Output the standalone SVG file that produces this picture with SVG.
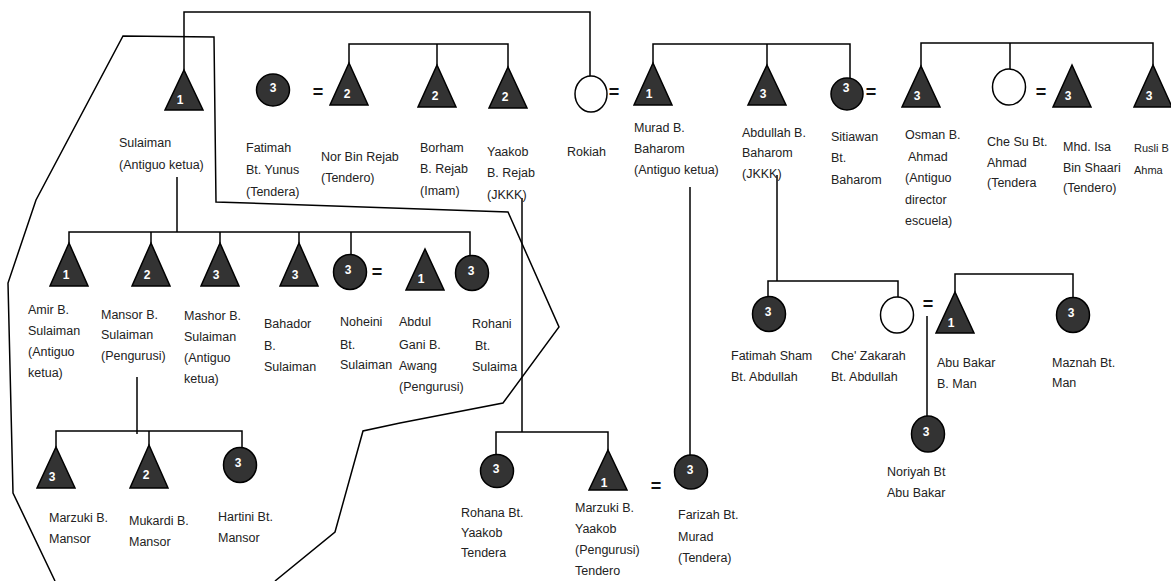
<svg xmlns="http://www.w3.org/2000/svg" width="1171" height="581" viewBox="0 0 1171 581">
<style>
.tri{fill:#333;stroke:#000;stroke-width:1.5}
.cf{fill:#333;stroke:#000;stroke-width:1.5}
.co{fill:#fff;stroke:#000;stroke-width:1.5}
.num{font-family:"Liberation Sans",Arial,sans-serif;font-weight:bold;font-size:12px;fill:#fff;text-anchor:middle}
.lbl{font-family:"Liberation Sans",Arial,sans-serif;font-size:12.5px;fill:#222}
.eq{font-family:"Liberation Sans",Arial,sans-serif;font-weight:bold;font-size:18px;fill:#111;text-anchor:middle}
.ln{fill:none;stroke:#000;stroke-width:1.5}
</style>
<rect width="1171" height="581" fill="#fff"/>
<g id="boundary">
<polyline class="ln" points="55,581 13,493 8,283 36,200 123,36 214,37 216,202 508,212 559,327 503,403 400,423 363,431 335,532 275,581"/>
</g>
<g id="connectors">
<polyline class="ln" points="184,70 184,12 590,12 590,76"/>
<polyline class="ln" points="349,63 349,44 508,44 508,67"/>
<line class="ln" x1="437" y1="44" x2="437" y2="65"/>
<polyline class="ln" points="653,63 653,44 850,44 850,78"/>
<line class="ln" x1="767" y1="44" x2="767" y2="65"/>
<polyline class="ln" points="921,66 921,43 1153,43 1153,65"/>
<line class="ln" x1="1010" y1="43" x2="1010" y2="69"/>
<line class="ln" x1="177" y1="177" x2="177" y2="232"/>
<polyline class="ln" points="69,243 69,232 470,232 470,255"/>
<line class="ln" x1="151" y1="232" x2="151" y2="243"/>
<line class="ln" x1="220" y1="232" x2="220" y2="243"/>
<line class="ln" x1="299" y1="232" x2="299" y2="243"/>
<line class="ln" x1="351" y1="232" x2="351" y2="255"/>
<line class="ln" x1="137" y1="377" x2="137" y2="434"/>
<polyline class="ln" points="56,447 56,431 242,431 242,447"/>
<line class="ln" x1="149" y1="431" x2="149" y2="445"/>
<line class="ln" x1="522" y1="198" x2="522" y2="432"/>
<polyline class="ln" points="496,455 496,432 608,432 608,450"/>
<line class="ln" x1="690" y1="187" x2="690" y2="455"/>
<line class="ln" x1="777" y1="175" x2="777" y2="281"/>
<polyline class="ln" points="768,297 768,281 898,281 898,297"/>
<polyline class="ln" points="955,292 955,274 1073,274 1073,297"/>
<line class="ln" x1="927" y1="316" x2="927" y2="416"/>
</g>
<g id="marriages">
<text class="eq" x="318" y="98">=</text>
<text class="eq" x="614" y="98">=</text>
<text class="eq" x="871" y="98">=</text>
<text class="eq" x="1041" y="98">=</text>
<text class="eq" x="377" y="278">=</text>
<text class="eq" x="656" y="492">=</text>
<text class="eq" x="928" y="310">=</text>
</g>
<g id="sulaiman"><path class="tri" d="M184,70 L203,110 L165,110 Z"/><text class="num" x="180" y="104">1</text>
<text class="lbl" x="119" y="147">Sulaiman</text><text class="lbl" x="119" y="169">(Antiguo ketua)</text></g>
<g id="fatimah-yunus"><ellipse class="cf" cx="273" cy="90" rx="16.5" ry="16"/><text class="num" x="273" y="92">3</text>
<text class="lbl" x="246" y="152">Fatimah</text><text class="lbl" x="246" y="174">Bt. Yunus</text><text class="lbl" x="246" y="196">(Tendera)</text></g>
<g id="nor"><path class="tri" d="M349,63 L368,105 L330,105 Z"/><text class="num" x="347" y="98">2</text>
<text class="lbl" x="321" y="161">Nor Bin Rejab</text><text class="lbl" x="321" y="182">(Tendero)</text></g>
<g id="borham"><path class="tri" d="M437,65 L456,107 L418,107 Z"/><text class="num" x="435" y="100">2</text>
<text class="lbl" x="420" y="152">Borham</text><text class="lbl" x="420" y="173">B. Rejab</text><text class="lbl" x="420" y="195">(Imam)</text></g>
<g id="yaakob"><path class="tri" d="M508,67 L527,108 L489,108 Z"/><text class="num" x="505" y="101">2</text>
<text class="lbl" x="487" y="156">Yaakob</text><text class="lbl" x="487" y="177">B. Rejab</text><text class="lbl" x="487" y="199">(JKKK)</text></g>
<g id="rokiah"><ellipse class="co" cx="591" cy="94" rx="16" ry="18"/>
<text class="lbl" x="567" y="156">Rokiah</text></g>
<g id="murad"><path class="tri" d="M653,63 L672,105 L634,105 Z"/><text class="num" x="649" y="98">1</text>
<text class="lbl" x="634" y="132">Murad B.</text><text class="lbl" x="634" y="153">Baharom</text><text class="lbl" x="634" y="174">(Antiguo ketua)</text></g>
<g id="abdullah"><path class="tri" d="M767,65 L786,105 L748,105 Z"/><text class="num" x="763" y="98">3</text>
<text class="lbl" x="742" y="137">Abdullah B.</text><text class="lbl" x="742" y="157">Baharom</text><text class="lbl" x="742" y="178">(JKKK)</text></g>
<g id="sitiawan"><ellipse class="cf" cx="847" cy="94" rx="16" ry="16"/><text class="num" x="846" y="92">3</text>
<text class="lbl" x="831" y="141">Sitiawan</text><text class="lbl" x="831" y="162">Bt.</text><text class="lbl" x="831" y="184">Baharom</text></g>
<g id="osman"><path class="tri" d="M921,66 L940,107 L902,107 Z"/><text class="num" x="917" y="100">3</text>
<text class="lbl" x="905" y="139">Osman B.</text><text class="lbl" x="908" y="161">Ahmad</text><text class="lbl" x="905" y="182">(Antiguo</text><text class="lbl" x="905" y="204">director</text><text class="lbl" x="905" y="225">escuela)</text></g>
<g id="che-su"><ellipse class="co" cx="1009" cy="87" rx="16.5" ry="18"/>
<text class="lbl" x="987" y="146">Che Su Bt.</text><text class="lbl" x="987" y="167">Ahmad</text><text class="lbl" x="987" y="187">(Tendera</text></g>
<g id="mhd-isa"><path class="tri" d="M1072,65 L1091,107 L1053,107 Z"/><text class="num" x="1068" y="100">3</text>
<text class="lbl" x="1063" y="151">Mhd. Isa</text><text class="lbl" x="1063" y="172">Bin Shaari</text><text class="lbl" x="1063" y="192">(Tendero)</text></g>
<g id="rusli"><path class="tri" d="M1153,65 L1172,107 L1134,107 Z"/><text class="num" x="1149" y="100">3</text>
<text class="lbl" x="1134" y="152" style="font-size:11px">Rusli B</text><text class="lbl" x="1134" y="174" style="font-size:11px">Ahma</text></g>
<g id="amir"><path class="tri" d="M69,243 L88,286 L50,286 Z"/><text class="num" x="66" y="279">1</text>
<text class="lbl" x="28" y="314">Amir B.</text><text class="lbl" x="28" y="335">Sulaiman</text><text class="lbl" x="28" y="356">(Antiguo</text><text class="lbl" x="28" y="377">ketua)</text></g>
<g id="mansor"><path class="tri" d="M151,243 L170,286 L132,286 Z"/><text class="num" x="147" y="279">2</text>
<text class="lbl" x="101" y="319">Mansor B.</text><text class="lbl" x="101" y="339">Sulaiman</text><text class="lbl" x="101" y="360">(Pengurusi)</text></g>
<g id="mashor"><path class="tri" d="M220,243 L239,286 L201,286 Z"/><text class="num" x="216" y="279">3</text>
<text class="lbl" x="184" y="320">Mashor B.</text><text class="lbl" x="184" y="341">Sulaiman</text><text class="lbl" x="184" y="362">(Antiguo</text><text class="lbl" x="184" y="383">ketua)</text></g>
<g id="bahador"><path class="tri" d="M299,243 L318,286 L280,286 Z"/><text class="num" x="295" y="279">3</text>
<text class="lbl" x="264" y="328">Bahador</text><text class="lbl" x="264" y="350">B.</text><text class="lbl" x="264" y="371">Sulaiman</text></g>
<g id="noheini"><ellipse class="cf" cx="350" cy="272" rx="16.5" ry="17.5"/><text class="num" x="348" y="274">3</text>
<text class="lbl" x="340" y="326">Noheini</text><text class="lbl" x="340" y="349">Bt.</text><text class="lbl" x="340" y="369">Sulaiman</text></g>
<g id="abdul-gani"><path class="tri" d="M425,249 L444,290 L406,290 Z"/><text class="num" x="421" y="283">1</text>
<text class="lbl" x="399" y="326">Abdul</text><text class="lbl" x="399" y="349">Gani B.</text><text class="lbl" x="399" y="370">Awang</text><text class="lbl" x="399" y="391">(Pengurusi)</text></g>
<g id="rohani"><ellipse class="cf" cx="472" cy="273" rx="16.5" ry="17.5"/><text class="num" x="471" y="275">3</text>
<text class="lbl" x="472" y="328">Rohani</text><text class="lbl" x="475" y="350">Bt.</text><text class="lbl" x="472" y="371">Sulaima</text></g>
<g id="marzuki-mansor"><path class="tri" d="M56,447 L75,488 L37,488 Z"/><text class="num" x="52" y="481">3</text>
<text class="lbl" x="49" y="522">Marzuki B.</text><text class="lbl" x="49" y="543">Mansor</text></g>
<g id="mukardi"><path class="tri" d="M149,445 L168,488 L130,488 Z"/><text class="num" x="146" y="479">2</text>
<text class="lbl" x="129" y="525">Mukardi B.</text><text class="lbl" x="129" y="546">Mansor</text></g>
<g id="hartini"><ellipse class="cf" cx="240" cy="465" rx="16.5" ry="17.5"/><text class="num" x="238" y="467">3</text>
<text class="lbl" x="218" y="521">Hartini Bt.</text><text class="lbl" x="218" y="542">Mansor</text></g>
<g id="rohana"><ellipse class="cf" cx="497" cy="471" rx="16.5" ry="16.5"/><text class="num" x="496" y="473">3</text>
<text class="lbl" x="461" y="517">Rohana Bt.</text><text class="lbl" x="461" y="537">Yaakob</text><text class="lbl" x="461" y="557">Tendera</text></g>
<g id="marzuki-yaakob"><path class="tri" d="M608,450 L627,490 L589,490 Z"/><text class="num" x="604" y="487">1</text>
<text class="lbl" x="575" y="512">Marzuki B.</text><text class="lbl" x="575" y="533">Yaakob</text><text class="lbl" x="575" y="554">(Pengurusi)</text><text class="lbl" x="575" y="575">Tendero</text></g>
<g id="farizah"><ellipse class="cf" cx="691" cy="472" rx="16.5" ry="17"/><text class="num" x="690" y="474">3</text>
<text class="lbl" x="678" y="519">Farizah Bt.</text><text class="lbl" x="678" y="541">Murad</text><text class="lbl" x="678" y="562">(Tendera)</text></g>
<g id="fatimah-sham"><ellipse class="cf" cx="769" cy="314" rx="16.5" ry="17.5"/><text class="num" x="768" y="316">3</text>
<text class="lbl" x="731" y="360">Fatimah Sham</text><text class="lbl" x="731" y="381">Bt. Abdullah</text></g>
<g id="che-zakarah"><ellipse class="co" cx="897" cy="315" rx="16.5" ry="18"/>
<text class="lbl" x="831" y="360">Che' Zakarah</text><text class="lbl" x="831" y="381">Bt. Abdullah</text></g>
<g id="abu-bakar"><path class="tri" d="M955,292 L974,333 L936,333 Z"/><text class="num" x="951" y="327">1</text>
<text class="lbl" x="937" y="367">Abu Bakar</text><text class="lbl" x="937" y="388">B. Man</text></g>
<g id="maznah"><ellipse class="cf" cx="1073" cy="315" rx="16.5" ry="17.5"/><text class="num" x="1071" y="317">3</text>
<text class="lbl" x="1052" y="367">Maznah Bt.</text><text class="lbl" x="1052" y="387">Man</text></g>
<g id="noriyah"><ellipse class="cf" cx="928" cy="434" rx="16.5" ry="18"/><text class="num" x="926" y="436">3</text>
<text class="lbl" x="887" y="476">Noriyah Bt</text><text class="lbl" x="887" y="497">Abu Bakar</text></g>
</svg>
